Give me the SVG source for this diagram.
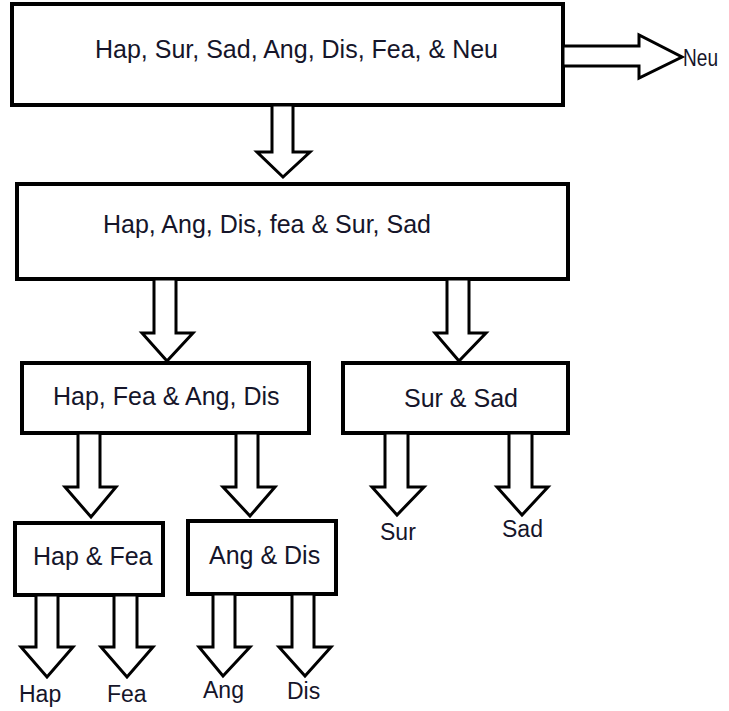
<svg xmlns="http://www.w3.org/2000/svg" width="729" height="711" viewBox="0 0 729 711">
  <style>
    .box { fill: #ffffff; stroke: #000000; stroke-width: 4; }
    .arrow { fill: #ffffff; stroke: #000000; stroke-width: 3; stroke-linejoin: miter; }
    .label { font-family: "Liberation Sans", Arial, sans-serif; font-size: 25px; fill: #15152a; }
    .out { font-family: "Liberation Sans", Arial, sans-serif; font-size: 23px; fill: #15152a; }
  </style>
  <rect width="729" height="711" fill="#ffffff"/>

  <!-- boxes -->
  <g id="node-all">
    <rect class="box" x="12" y="4" width="551" height="101"/>
    <text class="label" x="95" y="58">Hap, Sur, Sad, Ang, Dis, Fea, &amp; Neu</text>
  </g>
  <g id="node-level2">
    <rect class="box" x="17" y="184" width="551" height="95"/>
    <text class="label" x="103" y="233">Hap, Ang, Dis, fea &amp; Sur, Sad</text>
  </g>
  <g id="node-hfad">
    <rect class="box" x="22" y="363" width="287" height="70"/>
    <text class="label" x="53" y="405">Hap, Fea &amp; Ang, Dis</text>
  </g>
  <g id="node-sursad">
    <rect class="box" x="343" y="363" width="225" height="70"/>
    <text class="label" x="404" y="407">Sur &amp; Sad</text>
  </g>
  <g id="node-hapfea">
    <rect class="box" x="15" y="523" width="148" height="72"/>
    <text class="label" x="33" y="565">Hap &amp; Fea</text>
  </g>
  <g id="node-angdis">
    <rect class="box" x="188" y="521" width="148" height="73"/>
    <text class="label" x="209" y="564">Ang &amp; Dis</text>
  </g>

  <!-- block arrows -->
  <g id="connectors">
    <polygon class="arrow" points="563,46 639,46 639,35 682,57 639,78 639,66 563,66"/>
    <polygon class="arrow" points="272,105 293,105 293,152 310,152 283,177 257,152 272,152"/>
    <polygon class="arrow" points="154,279 176,279 176,333 193,333 167,361 142,333 154,333"/>
    <polygon class="arrow" points="447,279 469,279 469,333 486,333 459,361 435,333 447,333"/>
    <polygon class="arrow" points="78,433 100,433 100,487 116,487 91,517 65,487 78,487"/>
    <polygon class="arrow" points="236,433 258,433 258,487 275,487 250,516 223,487 236,487"/>
    <polygon class="arrow" points="385,433 408,433 408,487 424,487 397,515 372,487 385,487"/>
    <polygon class="arrow" points="509,433 532,433 532,487 548,487 522,515 497,487 509,487"/>
    <polygon class="arrow" points="36,595 58,595 58,647 73,647 47,677 21,647 36,647"/>
    <polygon class="arrow" points="114,595 137,595 137,647 153,647 127,677 101,647 114,647"/>
    <polygon class="arrow" points="213,594 235,594 235,647 250,647 223,676 199,647 213,647"/>
    <polygon class="arrow" points="292,594 314,594 314,647 331,647 305,676 279,647 292,647"/>
  </g>

  <!-- outcome labels -->
  <g id="outcomes">
    <text class="out" x="683" y="66" textLength="35" lengthAdjust="spacingAndGlyphs">Neu</text>
    <text class="out" x="380" y="540">Sur</text>
    <text class="out" x="502" y="537">Sad</text>
    <text class="out" x="19" y="702">Hap</text>
    <text class="out" x="107" y="702">Fea</text>
    <text class="out" x="203" y="698">Ang</text>
    <text class="out" x="287" y="699">Dis</text>
  </g>
</svg>
